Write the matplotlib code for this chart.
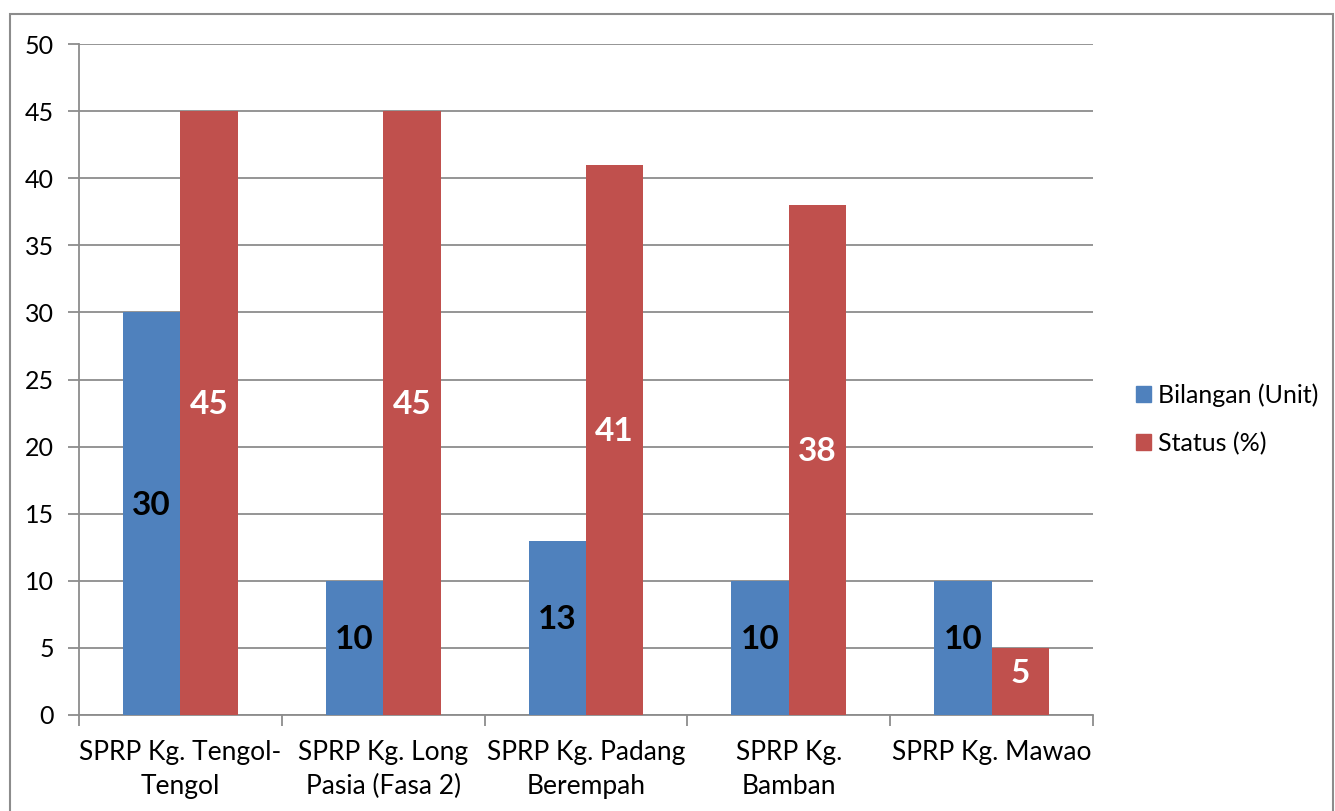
import matplotlib
matplotlib.use("Agg")
import matplotlib.pyplot as plt
from matplotlib.patches import Rectangle
import numpy as np

categories = ["SPRP Kg. Tengol-\nTengol", "SPRP Kg. Long\nPasia (Fasa 2)",
              "SPRP Kg. Padang\nBerempah", "SPRP Kg.\nBamban", "SPRP Kg. Mawao"]
bilangan = [30, 10, 13, 10, 10]
status = [45, 45, 41, 38, 5]
series_names = ["Bilangan (Unit)", "Status (%)"]
yticks = [0, 5, 10, 15, 20, 25, 30, 35, 40, 45, 50]

plt.rcParams['font.family'] = ['Lato', 'DejaVu Sans']

BLUE = "#4F81BD"
RED = "#C0504D"
GRID = "#8C8C8C"

fig = plt.figure(figsize=(13.35, 8.11), dpi=100)
ax = fig.add_axes([79/1335, 1-715/811, (1093-79)/1335, (715-44)/811])

x = np.arange(len(categories))
w = 0.2835
b1 = ax.bar(x - w/2, bilangan, w, color=BLUE, zorder=3)
b2 = ax.bar(x + w/2, status, w, color=RED, zorder=3)

for rect, v in zip(b1, bilangan):
    ax.annotate(str(v), (rect.get_x() + rect.get_width()/2, v/2), xytext=(0, 6),
                textcoords='offset points', ha='center', va='center',
                fontsize=24, fontweight='bold', color='black', zorder=4)
for rect, v in zip(b2, status):
    ax.annotate(str(v), (rect.get_x() + rect.get_width()/2, v/2), xytext=(0, 6),
                textcoords='offset points', ha='center', va='center',
                fontsize=24, fontweight='bold', color='white', zorder=4)

ax.set_xlim(-0.5, len(categories) - 0.5)
ax.set_ylim(0, 50)
ax.set_yticks(yticks)
ax.yaxis.grid(True, color=GRID, linewidth=1.3, zorder=0)
ax.set_axisbelow(True)

ax.set_xticks(x)
ax.set_xticklabels(categories, fontsize=19, linespacing=1.45)
ax.tick_params(axis='x', length=0, pad=18)
ax.set_xticks(np.arange(len(categories) + 1) - 0.5, minor=True)
ax.tick_params(axis='x', which='minor', length=8, width=1.3, color=GRID)
ax.tick_params(axis='y', length=8, width=1.3, color=GRID, labelsize=18, pad=10)

for s in ['top', 'right']:
    ax.spines[s].set_visible(False)
for s in ['left', 'bottom']:
    ax.spines[s].set_color(GRID)
    ax.spines[s].set_linewidth(1.3)

handles = [Rectangle((0, 0), 1, 1, color=BLUE), Rectangle((0, 0), 1, 1, color=RED)]
fig.legend(handles, series_names, loc='center left', bbox_to_anchor=(1123/1335, 1-419/811),
           frameon=False, fontsize=18, handlelength=0.62, handleheight=0.62,
           handletextpad=0.3, labelspacing=1.0, borderpad=0)

border = Rectangle((10/1335, -0.05), (1333-10)/1335, 1.05 - 14/811, transform=fig.transFigure,
                   fill=False, edgecolor='#8C8C8C', linewidth=1.5)
fig.patches.append(border)

fig.savefig("out.png", dpi=100)
